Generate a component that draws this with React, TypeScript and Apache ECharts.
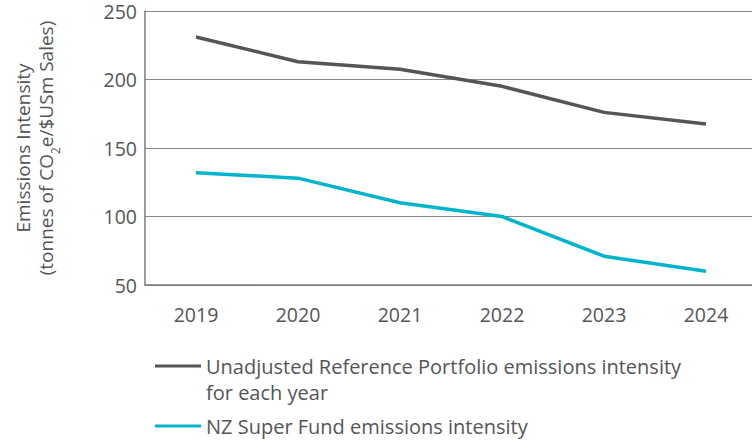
import React, { useEffect, useRef } from "react";
import * as echarts from "echarts";

const years = ["2019", "2020", "2021", "2022", "2023", "2024"];
const referenceValues = [231, 213, 207.5, 195, 176, 167.5];
const fundValues = [132, 128, 110, 100, 71, 60];
const seriesNames = [
  "Unadjusted Reference Portfolio emissions intensity\nfor each year",
  "NZ Super Fund emissions intensity",
];

const FONT = "'Open Sans', 'Noto Sans', sans-serif";
const TEXT = "#555557";
const GRAY = "#555557";
const CYAN = "#00b4cc";

export default function App() {
  const ref = useRef<HTMLDivElement>(null);
  useEffect(() => {
    if (!ref.current) return;
    const chart = echarts.init(ref.current, undefined, { renderer: "svg" });
    chart.setOption({
      animation: false,
      grid: { left: 145, top: 11, width: 612, height: 274 },
      xAxis: {
        type: "category",
        data: years,
        boundaryGap: true,
        axisLine: { lineStyle: { color: "#7a7a7a", width: 1.5 } },
        axisTick: { show: false },
        axisLabel: { color: TEXT, fontSize: 19.5, fontFamily: FONT, margin: 19 },
      },
      yAxis: {
        type: "value",
        min: 50,
        max: 250,
        interval: 50,
        axisLine: { show: true, lineStyle: { color: "#7a7a7a", width: 1.5 } },
        axisTick: { show: false },
        axisLabel: { color: TEXT, fontSize: 19.5, fontFamily: FONT, margin: 8, lineHeight: 14, padding: [6, 0, 0, 0] },
        splitLine: { lineStyle: { color: "#8a8a8a", width: 1 } },
        name: "{a|Emissions Intensity}\n{a|(tonnes of CO}{s|2}{a|e/$USm Sales)}",
        nameLocation: "middle",
        nameRotate: 90,
        nameGap: 88,
        nameTextStyle: {
          color: TEXT,
          fontFamily: FONT,
          rich: {
            a: { fontSize: 19, fontFamily: FONT, color: TEXT, lineHeight: 23 },
            s: { fontSize: 12, fontFamily: FONT, color: TEXT, lineHeight: 23, verticalAlign: "bottom", padding: [0, 0, -4, 0] },
          },
        },
      },
      legend: {
        orient: "vertical",
        left: 150,
        top: 322,
        icon: "rect",
        itemWidth: 46,
        itemHeight: 3,
        itemGap: 8,
        textStyle: { color: TEXT, fontSize: 20, fontFamily: FONT, lineHeight: 26 },
        formatter: (name: string) => (name === seriesNames[0] ? " \n" + name : name),
        data: [seriesNames[0], seriesNames[1]],
      },
      series: [
        {
          name: seriesNames[0],
          type: "line",
          data: referenceValues,
          showSymbol: false,
          lineStyle: { color: GRAY, width: 3.5 },
          itemStyle: { color: GRAY },
        },
        {
          name: seriesNames[1],
          type: "line",
          data: fundValues,
          showSymbol: false,
          lineStyle: { color: CYAN, width: 3.5 },
          itemStyle: { color: CYAN },
        },
      ],
    });
    return () => chart.dispose();
  }, []);
  return (
    <div style={{ position: "absolute", left: 0, top: 0, width: 752, height: 441, overflow: "hidden" }}>
      <div ref={ref} style={{ width: 760, height: 441 }} />
    </div>
  );
}
